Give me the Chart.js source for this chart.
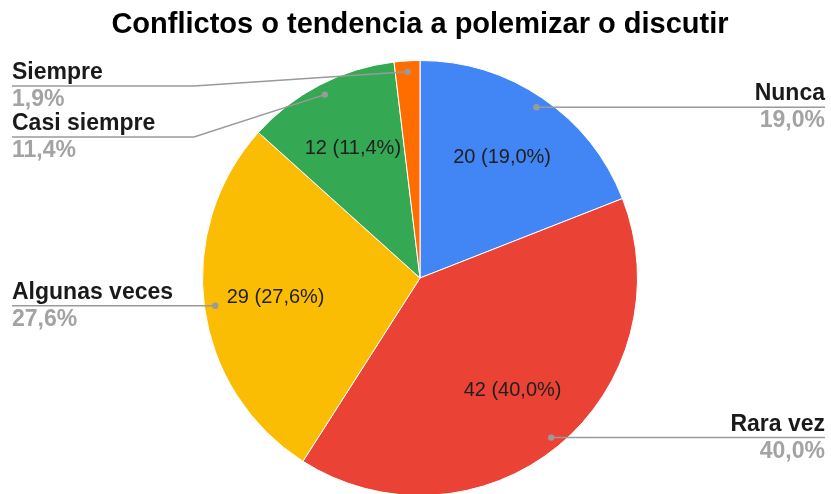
<!DOCTYPE html>
<html>
<head>
<meta charset="utf-8">
<script src="https://cdn.jsdelivr.net/npm/chart.js@4.4.1/dist/chart.umd.min.js"></script>
<style>
html,body{margin:0;padding:0;background:#fff;overflow:hidden;width:831px;height:494px;}
canvas{display:block;}
</style>
</head>
<body>
<canvas id="c" width="831" height="500"></canvas>
<script>
const titleText = 'Conflictos o tendencia a polemizar o discutir';
const categories = ['Nunca', 'Rara vez', 'Algunas veces', 'Casi siempre', 'Siempre'];
const counts = [20, 42, 29, 12, 2];
const sliceColors = ['#4285F4', '#EA4335', '#FBBC04', '#34A853', '#FF6D01'];

const FONT = '"Liberation Sans", Arial, sans-serif';
const total = counts.reduce((a, b) => a + b, 0);
const pct = v => (v / total * 100).toFixed(1).replace('.', ',') + '%';

const labelPlugin = {
  id: 'pieLabels',
  afterDatasetsDraw(chart) {
    const ctx = chart.ctx;
    const meta = chart.getDatasetMeta(0);
    const items = meta.data.map((arc, i) => {
      const p = arc.getProps(['x', 'y', 'startAngle', 'endAngle', 'outerRadius'], true);
      const mid = (p.startAngle + p.endAngle) / 2;
      return {
        i, mid, cx: p.x, cy: p.y, R: p.outerRadius,
        dotX: p.x + Math.cos(mid) * p.outerRadius * 0.95,
        dotY: p.y + Math.sin(mid) * p.outerRadius * 0.95,
        inX: p.x + Math.cos(mid) * p.outerRadius * 0.67,
        inY: p.y + Math.sin(mid) * p.outerRadius * 0.67,
        left: Math.cos(mid) < 0
      };
    });
    // inner labels
    ctx.save();
    ctx.font = '20px ' + FONT;
    ctx.fillStyle = '#1f1f1f';
    ctx.textAlign = 'center';
    ctx.textBaseline = 'middle';
    items.forEach(it => {
      if (counts[it.i] / total < 0.05) return;
      ctx.fillText(counts[it.i] + ' (' + pct(counts[it.i]) + ')', it.inX, it.inY);
    });
    ctx.restore();

    // outer labels: resolve overlaps per side
    const minY = 86, gap = 51;
    ['left', 'right'].forEach(side => {
      const group = items.filter(it => (side === 'left') === it.left).sort((a, b) => a.dotY - b.dotY);
      let prev = -Infinity;
      group.forEach(it => {
        it.lineY = Math.max(it.dotY, prev + gap, minY);
        prev = it.lineY;
      });
    });

    const leftX = 12, rightX = 825, leftBend = 194, rightBend = 637;
    ctx.save();
    items.forEach(it => {
      ctx.strokeStyle = '#9a9a9a';
      ctx.lineWidth = 1.5;
      ctx.beginPath();
      if (it.left) {
        ctx.moveTo(leftX, it.lineY);
        if (Math.abs(it.lineY - it.dotY) > 0.5) ctx.lineTo(leftBend, it.lineY);
        ctx.lineTo(it.dotX, it.dotY);
      } else {
        ctx.moveTo(rightX, it.lineY);
        if (Math.abs(it.lineY - it.dotY) > 0.5) ctx.lineTo(rightBend, it.lineY);
        ctx.lineTo(it.dotX, it.dotY);
      }
      ctx.stroke();
      ctx.fillStyle = '#9a9a9a';
      ctx.beginPath();
      ctx.arc(it.dotX, it.dotY, 3.2, 0, Math.PI * 2);
      ctx.fill();

      const tx = it.left ? leftX : rightX;
      ctx.textAlign = it.left ? 'left' : 'right';
      ctx.textBaseline = 'alphabetic';
      ctx.font = 'bold 23px ' + FONT;
      ctx.fillStyle = '#1a1a1a';
      ctx.fillText(categories[it.i], tx, it.lineY - 7);
      ctx.fillStyle = '#a3a3a3';
      ctx.fillText(pct(counts[it.i]), tx, it.lineY + 20);
    });
    ctx.restore();
  }
};

new Chart(document.getElementById('c'), {
  type: 'pie',
  data: {
    labels: categories,
    datasets: [{
      data: counts,
      backgroundColor: sliceColors,
      borderColor: '#ffffff',
      borderWidth: 1
    }]
  },
  options: {
    responsive: false,
    animation: false,
    devicePixelRatio: 1,
    layout: { padding: { top: 0, bottom: 4, left: 13, right: 4 } },
    plugins: {
      legend: { display: false },
      tooltip: { enabled: false },
      title: {
        display: true,
        text: titleText,
        color: '#000000',
        font: { family: FONT, size: 29, weight: 'bold', lineHeight: 1.2 },
        padding: { top: 8, bottom: 17.2 }
      }
    }
  },
  plugins: [labelPlugin]
});
</script>
</body>
</html>
